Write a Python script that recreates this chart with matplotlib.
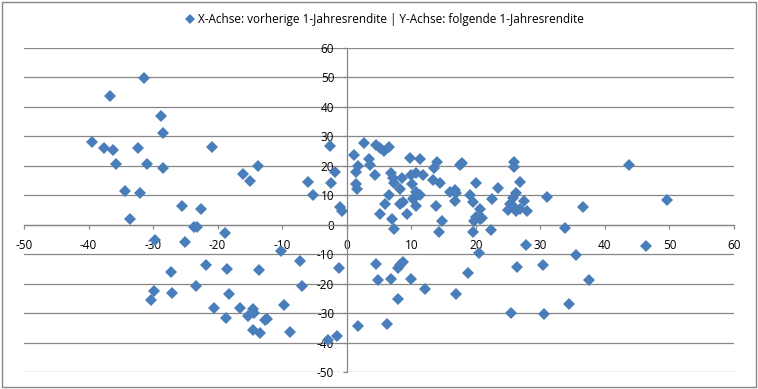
import matplotlib
matplotlib.use("Agg")
import matplotlib.pyplot as plt
from matplotlib.patches import Rectangle

# previous 1-year return (x) vs following 1-year return (y)
prev_ret = [
    -39.5, -37.6, -36.7, -36.2, -35.8, -34.4, -32.3, -31.4, -31.0, -28.7,
    -28.4, -28.4, -32.0, -20.8, -16.0, -15.0, -13.7, -6.0, -5.2, -2.6,
    -2.4, -1.8, -33.6, -25.5, -22.5, -23.7, -23.2, -18.9, -29.7, -25.0,
    -10.2, -7.2, -1.2, -21.8, -18.5, -13.6, -27.3, -23.3, -6.9, -29.9,
    -27.0, -30.4, -18.3, -20.6, -16.6, -14.5, -14.3, -15.3, -9.7, -18.7,
    -12.6, -12.3, -14.5, -13.4, -8.8, -2.9, -1.5, -1.0, -0.8,
    1.6, 1.5, 1.4, 1.8, 1.1, 2.6, 3.5, 3.6, 4.4, 4.5,
    5.2, 5.8, 6.5, 4.5, 4.9, 1.8, 5.2, 9.8, 11.4, 14.0,
    17.8, 17.6, 13.5, 6.9, 7.2, 7.4, 8.6, 10.0, 10.8, 11.8,
    10.1, 13.4, 14.4, 8.3, 10.7, 11.3, 10.5, 6.5, 6.0, 8.7,
    8.3, 10.2, 10.8, 13.9, 7.0, 9.3, 14.7, 16.0, 16.7, 17.0,
    16.7, 19.1, 20.1, 19.5, 7.4, 14.3, 19.6, 20.5, 8.7, 8.3,
    7.9, 6.8, 9.9, 12.1, 17.0, 18.8, 7.9, 6.2, 25.9, 25.9,
    23.5, 26.8, 22.5, 20.6, 31.0, 36.6, 33.8, 22.3, 26.3, 25.7,
    27.5, 25.3, 25.8, 25.0, 26.3, 26.8, 27.9, 20.1, 20.6, 21.0,
    19.7, 43.7, 49.6, 27.8, 46.4, 35.5, 26.4, 30.4, 37.5, 34.4,
    25.4, 30.6,
]
next_ret = [
    28.0, 26.0, 43.7, 25.3, 20.7, 11.6, 26.1, 49.7, 20.5, 36.7,
    31.1, 19.3, 10.8, 26.3, 17.1, 14.8, 19.8, 14.4, 10.0, 26.7,
    14.1, 17.8, 1.9, 6.5, 5.5, -0.9, -0.7, -2.8, -5.1, -6.0,
    -8.9, -12.2, -14.5, -13.6, -15.0, -15.2, -16.1, -20.7, -20.7, -22.4,
    -23.2, -25.4, -23.6, -28.3, -28.3, -28.5, -29.8, -31.0, -27.3, -31.5,
    -32.3, -31.9, -35.6, -36.6, -36.3, -38.9, -37.6, 6.1, 4.5,
    12.0, 13.7, 17.8, 20.0, 23.7, 27.6, 22.2, 20.4, 16.8, 26.9,
    25.9, 25.0, 26.4, -13.4, -18.6, -34.4, 3.6, 22.7, 22.2, 21.1,
    20.8, 20.2, 19.1, 17.4, 15.7, 14.2, 15.7, 17.0, 17.4, 16.8,
    13.8, 15.3, 14.3, 12.0, 11.2, 10.0, 8.9, 10.0, 7.0, 7.8,
    7.0, 8.6, 6.3, 6.3, 1.9, 3.5, 1.2, 11.2, 11.7, 10.6,
    8.1, 10.0, 14.0, 7.6, -1.6, -2.6, -2.4, -9.7, -12.6, -13.6,
    -14.6, -18.4, -18.5, -21.8, -23.3, -16.5, -25.1, -33.7, 21.1, 19.6,
    12.5, 14.5, 8.7, 5.3, 9.5, 6.1, -1.0, -1.7, 10.8, 8.9,
    8.2, 7.2, 6.3, 4.9, 4.6, 5.3, 4.6, 2.5, 1.8, 2.3,
    1.3, 20.4, 8.3, -6.9, -7.3, -10.3, -14.3, -13.5, -18.8, -26.9,
    -29.9, -30.3,
]
ticks = list(range(-50, 61, 10))
legend_label = "X-Achse: vorherige 1-Jahresrendite | Y-Achse: folgende 1-Jahresrendite"

plt.rcParams['font.family'] = ['Open Sans', 'DejaVu Sans']
plt.rcParams['axes.unicode_minus'] = False

grey = '#878787'
blue = '#4a7ebb'

fig = plt.figure(figsize=(7.58, 3.89), dpi=100)
ax = fig.add_axes([24 / 758, 1 - 372.3 / 389, 710 / 758, 324.6 / 389])

ax.plot(prev_ret, next_ret, linestyle='none', marker='D', markersize=5.8,
        color=blue, markeredgewidth=0, label=legend_label, zorder=3)

ax.set_xlim(-50, 60)
ax.set_ylim(-50, 60)
ax.set_xticks(ticks)
ax.set_yticks(ticks)
ax.set_xticklabels([str(t) for t in ticks])
ax.set_yticklabels([str(t) for t in ticks])

# axes cross at zero like in excel
ax.spines['left'].set_position(('data', 0))
ax.spines['bottom'].set_position(('data', 0))
ax.spines['top'].set_visible(False)
ax.spines['right'].set_visible(False)
for s in ['left', 'bottom']:
    ax.spines[s].set_color(grey)
    ax.spines[s].set_linewidth(0.9)

ax.yaxis.grid(True, color=grey, linewidth=0.9)
ax.set_axisbelow(True)
ax.tick_params(axis='both', direction='out', length=3, color=grey, width=0.9,
               labelsize=8.5, labelcolor='black')
ax.tick_params(axis='y', pad=6)
ax.tick_params(axis='x', pad=7)
ax.patch.set_visible(False)

fig.legend(loc='center', bbox_to_anchor=(384 / 758, 1 - 20 / 389), frameon=False,
           fontsize=8.5, handletextpad=0.1, handlelength=1.0, borderpad=0,
           markerscale=0.9)

# chart area border
fig.patches.append(Rectangle((1.5 / 758, 2.5 / 389), 754 / 758, 385 / 389,
                             transform=fig.transFigure, fill=False,
                             edgecolor=grey, linewidth=1))

fig.savefig('out.png', dpi=100)
